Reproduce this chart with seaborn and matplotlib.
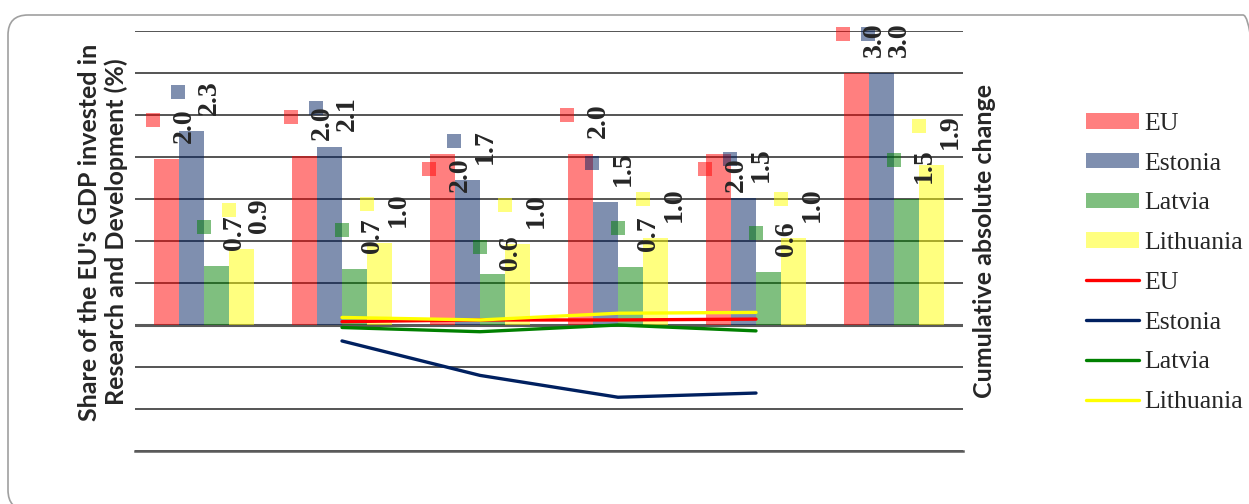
import numpy as np
import pandas as pd
import seaborn as sns
import matplotlib.pyplot as plt
import matplotlib.patches as mpatches
import matplotlib.transforms as mtransforms
from matplotlib.lines import Line2D

# ---------------- data ----------------
categories = ["2011", "2012", "2013", "2014", "2015", "2020 target"]
countries = ["EU", "Estonia", "Latvia", "Lithuania"]
eu_share = [1.98, 2.01, 2.03, 2.04, 2.03, 3.00]
estonia_share = [2.31, 2.12, 1.73, 1.46, 1.51, 3.00]
latvia_share = [0.70, 0.67, 0.61, 0.69, 0.63, 1.50]
lithuania_share = [0.90, 0.98, 0.96, 1.03, 1.04, 1.90]

change_years = ["2012", "2013", "2014", "2015"]
eu_change = [0.04, 0.06, 0.06, 0.07]
estonia_change = [-0.19, -0.60, -0.86, -0.81]
latvia_change = [-0.03, -0.08, 0.00, -0.07]
lithuania_change = [0.09, 0.06, 0.14, 0.15]

left_label = "Share of the EU's GDP invested in\nResearch and Development (%)"
right_label = "Cumulative absolute change"

# ---------------- styles ----------------
base_colors = {"EU": "#FF0000", "Estonia": "#002060",
               "Latvia": "#008000", "Lithuania": "#FFFF00"}
label_nudge = {("EU", "2013"): -54, ("EU", "2015"): -54, ("Latvia", "2013"): -12}

sns.set_style("white")
plt.rcParams["font.family"] = ["Liberation Serif", "DejaVu Serif"]

W, H = 1249, 504
fig = plt.figure(figsize=(W / 100, H / 100), dpi=100)
ax = fig.add_axes([135 / W, 1 - 451 / H, 828 / W, 420 / H])

share_df = pd.DataFrame({
    "category": categories * 4,
    "country": [c for c in countries for _ in categories],
    "share": eu_share + estonia_share + latvia_share + lithuania_share,
})
sns.barplot(data=share_df, x="category", y="share", hue="country",
            order=categories, hue_order=countries, palette=base_colors,
            saturation=1, alpha=0.5, width=0.73, gap=0, linewidth=0,
            errorbar=None, legend=False, ax=ax)

ax2 = ax.twinx()
change_df = pd.DataFrame({
    "pos": [categories.index(y) for y in change_years] * 4,
    "country": [c for c in countries for _ in change_years],
    "change": eu_change + estonia_change + latvia_change + lithuania_change,
})
sns.lineplot(data=change_df, x="pos", y="change", hue="country",
             hue_order=countries, palette=base_colors, lw=2.4,
             sort=False, legend=False, ax=ax2)

# axes
for a in (ax, ax2):
    a.set_ylim(-1.5, 3.5)
ax.set_xlim(-0.5, len(categories) - 0.5)
ax.set_yticks(np.arange(-1.5, 3.51, 0.5))
ax.yaxis.grid(True, color="#262626", lw=1.1)
ax.set_axisbelow(True)
ax.axhline(0, color="#5a5a5a", lw=2.2, zorder=0.6)
ax.tick_params(left=False, bottom=False, labelleft=False, labelbottom=False)
ax2.tick_params(right=False, labelright=False)
ax2.set_yticks([])
ax.set_xlabel("")
for s in ax.spines.values():
    s.set_visible(False)
for s in ax2.spines.values():
    s.set_visible(False)
ax.spines["bottom"].set_visible(True)
ax.spines["bottom"].set_color("#5a5a5a")
ax.spines["bottom"].set_linewidth(1.8)

ax.set_ylabel(left_label, fontsize=18, fontweight="bold", family="Lato",
              linespacing=1.2)
ax.yaxis.set_label_coords(-0.008, 0.521)
ax2.set_ylabel(right_label, fontsize=18, fontweight="bold", family="Lato")
ax2.yaxis.set_label_coords(1.012, 0.5)

# data labels with legend keys
n = len(countries)
bw = 0.73 / n
for p in ax.patches:
    h = p.get_height()
    if np.isnan(h):
        continue
    xc = p.get_x() + p.get_width() / 2
    j = int(round(xc))
    i = int(round((xc - j) / bw + (n - 1) / 2))
    country = countries[i]
    dy = label_nudge.get((country, categories[j]), 0)
    tr = mtransforms.offset_copy(ax.transData, fig=fig, x=-13, y=39 + dy, units="dots")
    ax.plot([xc], [h], marker="s", ms=10.3, mew=0, ls="none",
            mfc=base_colors[country], alpha=0.5, transform=tr, clip_on=False)
    ax.annotate(f"{h:.1f}", (xc, h), xytext=(18, 16 + dy), textcoords="offset pixels",
                rotation=90, ha="center", va="bottom", fontsize=20,
                fontweight="bold", family="Liberation Serif")

# legend
handles = [mpatches.Patch(facecolor=base_colors[c], alpha=0.5, edgecolor="none") for c in countries]
handles += [Line2D([], [], color=base_colors[c], lw=2.4) for c in countries]
labels = countries + countries
fig.legend(handles, labels, loc="center left", bbox_to_anchor=(1086 / W, 1 - 263 / H),
           frameon=False, fontsize=18.5, handlelength=2.05, handleheight=0.55,
           handletextpad=0.2, labelspacing=0.69, borderpad=0, borderaxespad=0)

# rounded outer frame
frame = mpatches.FancyBboxPatch((8, -6), 1255, 495,
                                boxstyle="round,pad=0,rounding_size=20",
                                transform=mtransforms.IdentityTransform(),
                                facecolor="none", edgecolor="#a0a0a0", lw=1.2)
fig.patches.append(frame)

fig.savefig("out.png", dpi=100)
